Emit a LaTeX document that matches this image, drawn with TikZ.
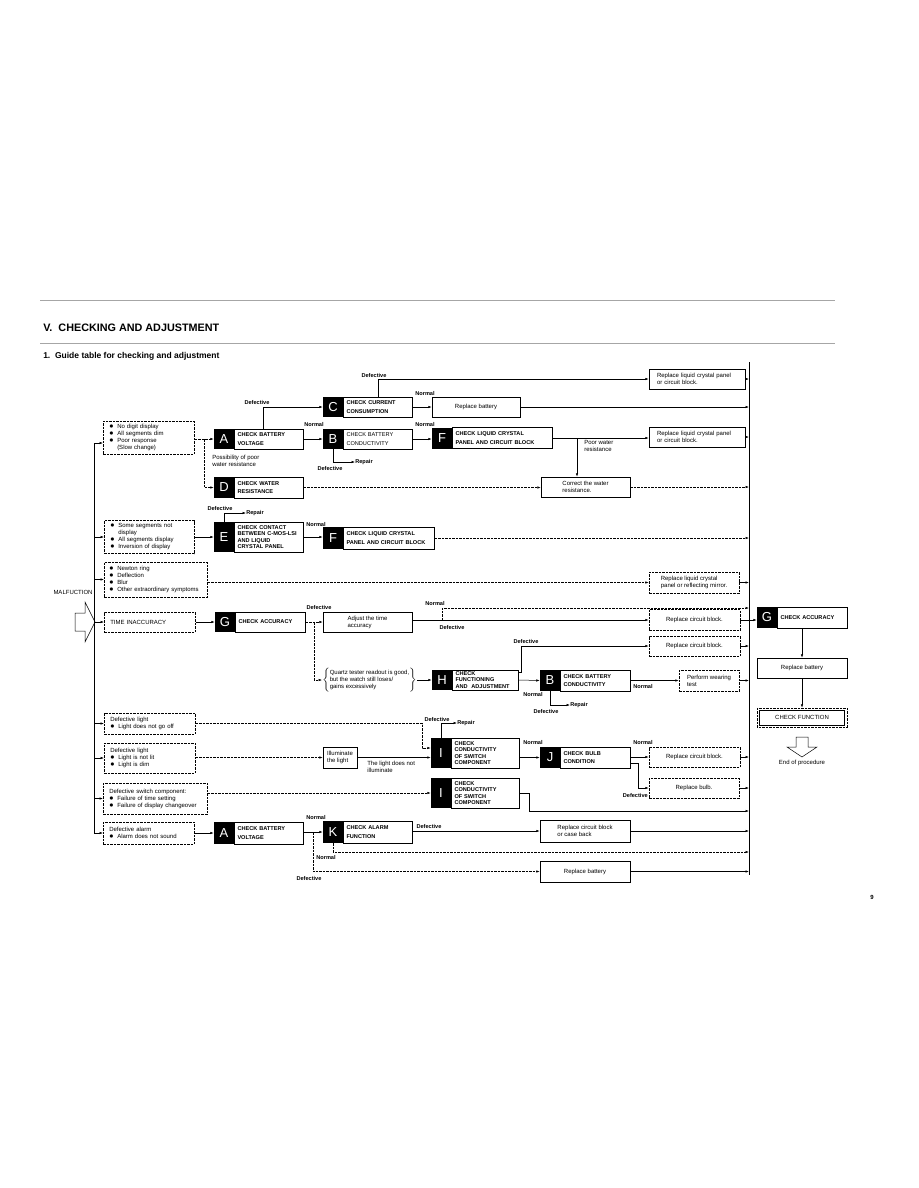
\documentclass[tikz,border=0pt]{standalone}
\usepackage{fontspec}
\setmainfont{Liberation Sans}
\usetikzlibrary{positioning,arrows.meta}
\newcommand{\bul}{\makebox[8pt][l]{\fontsize{8}{7}\selectfont$\bullet$}}

\begin{document}
\begin{tikzpicture}[x=1pt,y=-1pt,line width=0.5pt,
  arr/.style={-{Latex[length=3.5pt,width=2.4pt]}},
  faint/.style={dash pattern=on 2.5pt off 1pt},
  lbl/.style={font=\fontsize{5.6}{6.5}\selectfont\bfseries, inner sep=0pt},
  txt/.style={font=\fontsize{6}{7}\selectfont, inner sep=0pt, align=left},
  sym/.style={draw, faint, anchor=west, align=left, inner xsep=6pt, inner ysep=2pt, font=\fontsize{6}{7}\selectfont},
  act/.style={draw, align=left, inner sep=2pt, font=\fontsize{6}{7}\selectfont},
  lettr/.style={fill=black, text=white, minimum width=20pt, minimum height=#1, inner sep=0pt, font=\fontsize{13}{13}\selectfont},
  lettr/.default=20pt,
  chk/.style={draw, minimum height=#1, inner xsep=3pt, inner ysep=1pt, align=left, font=\fontsize{5.6}{8.3}\selectfont\bfseries},
  chk/.default=20pt,
  chkt/.style={chk=#1, inner ysep=0pt, font=\fontsize{5.6}{6.6}\selectfont\bfseries},
  chkt/.default=20pt]
\useasboundingbox (0,0) rectangle (918,1188);

% heading
\draw[gray!70, line width=0.6pt] (40,300) -- (835,300);
\draw[gray!70, line width=0.6pt] (40,343) -- (835,343);
\node[anchor=west, inner sep=0pt, font=\fontsize{10.8}{12}\selectfont\bfseries] (title) at (43,328) {V.\ \ CHECKING AND ADJUSTMENT};
\node[anchor=west, inner sep=0pt, font=\fontsize{8.5}{10}\selectfont\bfseries] (guide) at (43,356) {1.\ \ Guide table for checking and adjustment};

% collector and trunk
\coordinate (colT) at (749,362);
\coordinate (colB) at (749,875);
\draw (colT) -- (colB);
\coordinate (trunk) at (94,443);

% row A
\node[sym, text width=79pt, minimum height=33pt] (s1) at (103,437.5) {\bul No digit display\\\bul All segments dim\\\bul Poor response\\\hspace*{8pt}(Slow change)};
\node[lettr] (aL) at (224,439) {A};
\node[chk, text width=63pt, right=0pt of aL] (a) {CHECK BATTERY\\VOLTAGE};
\node[lettr] (cL) at (333,407) {C};
\node[chk, text width=63pt, right=0pt of cL] (c) {CHECK CURRENT\\CONSUMPTION};
\node[lettr] (bL) at (333,439) {B};
\node[chk, text width=63pt, right=0pt of bL, font=\fontsize{5.6}{8.3}\selectfont] (b) {CHECK BATTERY\\CONDUCTIVITY};
\node[lettr=21pt] (fL) at (442,438) {F};
\node[chk=21pt, text width=94pt, right=0pt of fL] (f) {CHECK LIQUID CRYSTAL\\PANEL AND CIRCUIT BLOCK};
\node[act, minimum width=96pt, minimum height=20pt, text width=80pt] (rl1) at (697,379) {Replace liquid crystal panel\\or circuit block.};
\node[act, minimum width=88pt, minimum height=20pt] (rb1) at (476,407) {Replace battery};
\node[act, minimum width=96pt, minimum height=20pt, text width=80pt] (rl2) at (697,437) {Replace liquid crystal panel\\or circuit block.};
\node[lettr=21pt] (dL) at (224,487.5) {D};
\node[chk=21pt, text width=63pt, right=0pt of dL] (d) {CHECK WATER\\RESISTANCE};
\node[act, minimum width=89pt, minimum height=20pt] (cw) at (585.5,487) {Correct the water\\resistance.};
\node[lbl] (dfa) at (257,402) {Defective};
\node[lbl] (nab) at (314,424) {Normal};
\node[lbl] (dfc) at (374,375) {Defective};
\node[lbl] (ncr) at (425,393) {Normal};
\node[lbl] (nbf) at (425,424) {Normal};
\node[lbl] (dfb) at (330,468) {Defective};
\node[lbl, anchor=west] (rp1) at (355,462) {Repair};
\node[txt, anchor=north west] (poss) at (212,455) {Possibility of poor\\water resistance};
\node[txt, anchor=north west] (poor) at (584,440) {Poor water\\resistance};

\draw[arr] (trunk) -- (trunk -| s1.west);
\draw[faint, arr] (s1.east |- aL) -- (aL.west);
\coordinate (j1) at (204,439);
\draw[faint, arr] (j1) |- (dL.west);
\draw[arr] ([xshift=-6pt]a.north) |- (cL.west);
\draw[arr] (a.east) -- (bL.west);
\draw[arr] (c.north) |- (rl1.west);
\draw[arr] (c.east) -- (rb1.west);
\draw[arr] (rb1.east) -- (rb1.east -| colT);
\draw[arr] (rl1.east) -- (rl1.east -| colT);
\draw[arr] (b.east) -- (b.east -| fL.west);
\draw[arr] (bL.south) |- (rp1.west);
\draw[arr] (f.east) -- (f.east -| rl2.west);
\coordinate (j2) at (577,438);
\draw[arr] (j2) -- (j2 |- cw.north);
\draw[arr] (rl2.east) -- (rl2.east -| colT);
\draw[faint, arr] (d.east) -- (d.east -| cw.west);
\draw[faint, arr] (cw.east) -- (cw.east -| colT);

% row E
\node[sym, text width=78pt, minimum height=33pt] (s2) at (104,537) {\bul Some segments not\\\hspace*{8pt}display\\\bul All segments display\\\bul Inversion of display};
\node[lettr=30pt] (eL) at (224,537) {E};
\node[chkt=30pt, text width=63pt, right=0pt of eL] (e) {CHECK CONTACT\\BETWEEN C-MOS-LSI\\AND LIQUID\\CRYSTAL PANEL};
\node[lettr=22pt] (f2L) at (333,538) {F};
\node[chk=22pt, text width=85pt, right=0pt of f2L] (f2) {CHECK LIQUID CRYSTAL\\PANEL AND CIRCUIT BLOCK};
\node[lbl] (dfe) at (220,508) {Defective};
\node[lbl, anchor=west] (rp2) at (246,513) {Repair};
\node[lbl] (nef) at (316,524) {Normal};
\draw[arr] (trunk |- s2.west) -- (s2.west);
\draw[arr] (s2.east) -- (eL.west);
\draw[arr] (eL.north) |- (rp2.west);
\draw[arr] (e.east) -- (e.east -| f2L.west);
\draw[faint, arr] (f2.east) -- (f2.east -| colT);

% row 3
\node[sym, text width=93pt, inner xsep=5pt, minimum height=35pt] (s3) at (104,579.5) {\bul Newton ring\\\bul Deflection\\\bul Blur\\\bul Other extraordinary symptoms};
\node[act, faint, minimum width=90pt, minimum height=21pt] (rm) at (694,582.5) {Replace liquid crystal\\panel or reflecting mirror.};
\draw[arr] (trunk |- s3.west) -- (s3.west);
\draw[faint, arr] (s3.east |- rm.west) -- (rm.west);
\draw[arr] (rm.east) -- (rm.east -| colT);

% malfunction arrow
\node[txt] (mal) at (73,592) {MALFUCTION};
\draw (75,613) -- (85,613) -- (85,602) -- (95,622) -- (85,642) -- (85,631) -- (75,631) -- cycle;

% row G
\node[sym, text width=79pt, minimum height=20pt] (tm) at (104,622) {TIME INACCURACY};
\node[lettr] (gL) at (225,622) {G};
\node[chk, text width=64pt, right=0pt of gL] (g) {CHECK ACCURACY};
\node[act, minimum width=89pt, minimum height=20pt] (adj) at (367.5,622) {Adjust the time\\accuracy};
\node[act, faint, minimum width=91pt, minimum height=21pt] (rc1) at (694.5,620) {Replace circuit block.};
\node[lettr=21pt] (g3L) at (767,617.5) {G};
\node[chk=21pt, text width=64pt, right=0pt of g3L] (g3) {CHECK ACCURACY};
\node[act, minimum width=90pt, minimum height=20pt] (rb2) at (802,668) {Replace battery};
\node[act, minimum width=85pt, minimum height=15pt] (cf) at (802,717.5) {CHECK FUNCTION};
\draw[faint] ([xshift=-2pt,yshift=2pt]cf.north west) rectangle ([xshift=2pt,yshift=-2pt]cf.south east);
\node[txt] (eop) at (802,763) {End of procedure};
\draw (796,737) -- (808,737) -- (808,747) -- (817,747) -- (802,757) -- (787,747) -- (796,747) -- cycle;
\node[lbl] (dfg) at (319,607) {Defective};
\node[lbl] (nad) at (435,603) {Normal};
\node[lbl] (dad) at (452,627) {Defective};

% row H
\node[txt] (qz) at (369.5,680) {$\left\{\vcenter{\hbox{\fontsize{6}{7}\selectfont\begin{tabular}{@{}l@{}}Quartz tester readout is good,\\but the watch still loses/\\gains excessively\end{tabular}}}\right\}$};
\node[lettr] (hL) at (442,680) {H};
\node[chkt, text width=60pt, right=0pt of hL] (h) {CHECK\\FUNCTIONING\\AND\ \ ADJUSTMENT};
\node[act, faint, minimum width=91pt, minimum height=20pt] (rc2) at (694.5,646) {Replace circuit block.};
\node[lettr=21pt] (b2L) at (550,680.5) {B};
\node[chk=21pt, text width=64pt, right=0pt of b2L] (b2) {CHECK BATTERY\\CONDUCTIVITY};
\node[act, faint, minimum width=60pt, minimum height=21pt] (pw) at (709,680.5) {Perform wearing\\test};
\node[lbl] (dfh) at (526,641) {Defective};
\node[lbl] (nbp) at (643,686) {Normal};
\node[lbl] (nhb) at (533,694) {Normal};
\node[lbl] (dfb2) at (546,711) {Defective};
\node[lbl, anchor=west] (rp3) at (570,705) {Repair};

\draw[arr] (trunk |- tm.west) -- (tm.west);
\draw[arr] (tm.east) -- (gL.west);
\draw[faint, arr] (g.east) -- (adj.west);
\coordinate (j3) at (314,622);
\draw[faint, arr] (j3) |- (qz.west);
\draw[arr] (adj.east |- rc1.west) -- (rc1.west);
\coordinate (j4) at (442,620);
\coordinate (n4) at (749,608);
\draw[faint, arr] (j4) |- (n4);
\draw[arr] (rc1.east) -- (rc1.east -| g3L.west);
\draw[arr] (g3.south -| rb2.north) -- (rb2.north);
\draw[arr] (rb2.south) -- ([yshift=2pt]cf.north);
\draw[arr] (qz.east) -- (hL.west);
\coordinate (j5) at (521,672);
\draw[arr] (h.east |- j5) -- (j5) |- (rc2.west);
\draw[arr] (h.east) -- (b2L.west);
\draw[arr] (b2.east) -- (pw.west);
\draw[arr] (pw.east) -- (pw.east -| colT);
\draw[arr] (b2L.south) |- (rp3.west);
\draw[arr] (rc2.east) -- (rc2.east -| colT);

% row I
\node[sym, text width=79pt, minimum height=21pt] (l1) at (104,723.5) {Defective light\\\bul Light does not go off};
\node[sym, text width=79pt, minimum height=30pt] (l2) at (104,758) {Defective light\\\bul Light is not lit\\\bul Light is dim};
\node[act, minimum width=34pt, minimum height=21pt, inner sep=1pt] (il) at (340,757.5) {Illuminate\\the light};
\node[txt, anchor=north west] (nol) at (367,761) {The light does not\\illuminate};
\node[lettr=30pt] (i1L) at (441,753) {I};
\node[chkt=30pt, text width=62pt, right=0pt of i1L] (i1) {CHECK\\CONDUCTIVITY\\OF SWITCH\\COMPONENT};
\node[lettr=21pt] (jL) at (550,757.5) {J};
\node[chk=21pt, text width=64pt, right=0pt of jL] (j) {CHECK BULB\\CONDITION};
\node[act, faint, minimum width=91pt, minimum height=20pt] (rc3) at (694.5,757) {Replace circuit block.};
\node[act, faint, minimum width=90pt, minimum height=20pt] (rbu) at (694,788) {Replace bulb.};
\node[lbl] (dfi) at (437,719) {Defective};
\node[lbl, anchor=west] (rp4) at (457,723) {Repair};
\node[lbl] (nij) at (533,742) {Normal};
\node[lbl] (njr) at (643,742) {Normal};
\node[lbl, anchor=east] (dfj) at (648,795) {Defective};

\draw[arr] (trunk |- l1.west) -- (l1.west);
\coordinate (j6) at (422,723.5);
\draw[faint, arr] (l1.east) -- (j6) |- ([yshift=5pt]i1L.west);
\draw[arr] (i1L.north) |- (rp4.west);
\draw[arr] (trunk |- l2.west) -- (l2.west);
\draw[faint, arr] (l2.east |- il.west) -- (il.west);
\draw[arr] (il.east) -- (il.east -| i1L.west);
\draw[arr] (i1.east |- jL.west) -- (jL.west);
\draw[arr] (j.east |- rc3.west) -- (rc3.west);
\coordinate (j7) at (638,763);
\draw[arr] (j.east |- j7) -- (j7) |- (rbu.west);
\draw[arr] (rc3.east) -- (rc3.east -| colT);
\draw[arr] (rbu.east) -- (rbu.east -| colT);

% row switch
\node[sym, text width=92pt, minimum height=31pt] (sw) at (103,798.5) {Defective switch component:\\\bul Failure of time setting\\\bul Failure of display changeover};
\node[lettr=30pt] (i2L) at (441,793) {I};
\node[chkt=30pt, text width=62pt, right=0pt of i2L] (i2) {CHECK\\CONDUCTIVITY\\OF SWITCH\\COMPONENT};
\draw[arr] (trunk |- sw.west) -- (sw.west);
\draw[faint, arr] (sw.east |- i2L.west) -- (i2L.west);
\coordinate (j8) at (529,811);
\draw[arr] (i2.east) -| (j8) -- (j8 -| colT);

% row alarm
\node[sym, text width=79pt, minimum height=22pt] (al) at (103,833) {Defective alarm\\\bul Alarm does not sound};
\node[lettr=22pt] (a2L) at (224,833) {A};
\node[chk=22pt, text width=63pt, right=0pt of a2L] (a2) {CHECK BATTERY\\VOLTAGE};
\node[lettr=22pt] (kL) at (333,832) {K};
\node[chk=22pt, text width=63pt, right=0pt of kL] (k) {CHECK ALARM\\FUNCTION};
\node[act, minimum width=90pt, minimum height=22pt] (rcb) at (585,831) {Replace circuit block\\or case back};
\node[act, minimum width=90pt, minimum height=21pt] (rb3) at (585,871.5) {Replace battery};
\node[lbl] (nak) at (316,817) {Normal};
\node[lbl] (dkr) at (429,826) {Defective};
\node[lbl] (nkc) at (326,857) {Normal};
\node[lbl] (dab) at (309,878) {Defective};
\draw[arr] (trunk) |- (al.west);
\draw[arr] (al.east) -- (a2L.west);
\draw[arr] (a2.east |- kL.west) -- (kL.west);
\coordinate (j9) at (313,832);
\draw[faint, arr] (j9) |- (rb3.west);
\coordinate (n9) at (749,852);
\draw[faint, arr] (kL.south) |- (n9);
\draw[arr] (k.east |- rcb.west) -- (rcb.west);
\draw[arr] (rcb.east) -- (rcb.east -| colT);
\draw[arr] (rb3.east) -- (rb3.east -| colT);

\node[txt, font=\fontsize{6}{7}\selectfont\bfseries] (pg) at (872,897) {9};
\end{tikzpicture}
\end{document}
